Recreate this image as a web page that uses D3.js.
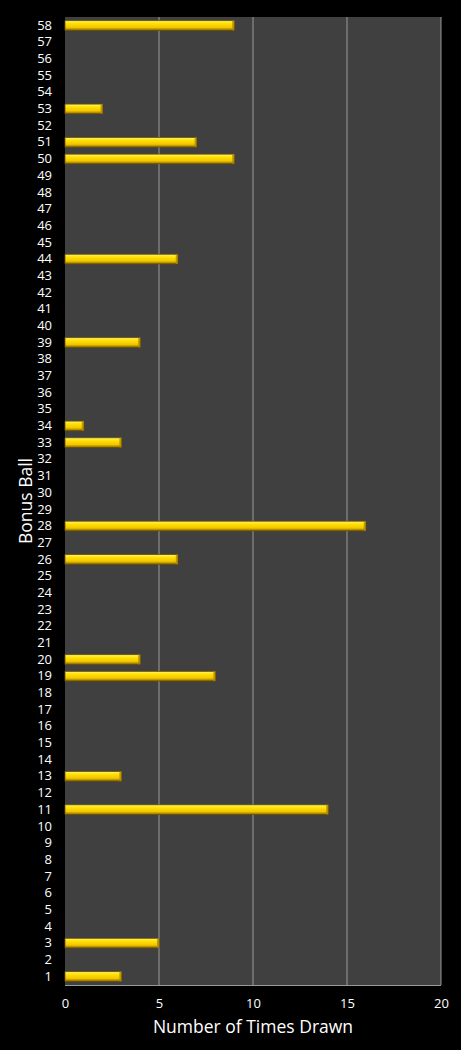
<!DOCTYPE html>
<html lang="en">
<head>
    <meta charset="UTF-8">
    <title>Bonus Ball</title>
    <script src="https://cdn.jsdelivr.net/npm/d3@7"></script>
    <style>
        body { margin: 0; background: #000; }
        svg { display: block; }
        text { font-family: "Open Sans", "DejaVu Sans", sans-serif; fill: #fff; }
    </style>
</head>
<body>
    <div id="chart-space"></div>

    <script>
        // Bonus ball numbers 1..58 and how often each was drawn
        var balls = d3.range(1, 59);
        var drawnBalls = [1, 3, 11, 13, 19, 20, 26, 28, 33, 34, 39, 44, 50, 51, 53, 58];
        var drawnCounts = [3, 5, 14, 3, 8, 4, 6, 16, 3, 1, 4, 6, 9, 7, 2, 9];
        var xTicks = [0, 5, 10, 15, 20];

        var width = 461;
        var height = 1050;
        var margin = {top: 17, right: 20, bottom: 65, left: 65};
        var chartWidth = width - margin.left - margin.right;
        var chartHeight = height - margin.top - margin.bottom;

        var countOf = {};
        drawnBalls.forEach(function(b, i) { countOf[b] = drawnCounts[i]; });
        var data = balls.map(function(b) { return {ball: b, count: countOf[b] || 0}; });

        var svg = d3.select("#chart-space")
            .append("svg")
            .attr("width", width)
            .attr("height", height);

        var defs = svg.append("defs");
        var grad = defs.append("linearGradient")
            .attr("id", "barGrad")
            .attr("x1", 0).attr("y1", 0).attr("x2", 0).attr("y2", 1);
        grad.append("stop").attr("offset", "0%").attr("stop-color", "#fff27a");
        grad.append("stop").attr("offset", "30%").attr("stop-color", "#ffe100");
        grad.append("stop").attr("offset", "70%").attr("stop-color", "#f2c600");
        grad.append("stop").attr("offset", "100%").attr("stop-color", "#8a6a00");

        var g = svg.append("g")
            .attr("transform", "translate(" + margin.left + "," + margin.top + ")");

        var xScale = d3.scaleLinear()
            .domain([0, 20])
            .range([0, chartWidth]);

        var yScale = d3.scaleBand()
            .domain(balls.slice().reverse())
            .range([0, chartHeight])
            .paddingInner(0.42)
            .paddingOuter(0.22);

        // plot background
        g.append("rect")
            .attr("width", chartWidth)
            .attr("height", chartHeight)
            .attr("fill", "#404040");

        // vertical gridlines
        g.selectAll(".grid")
            .data(xTicks.slice(1))
            .join("line")
            .attr("class", "grid")
            .attr("x1", function(d) { return xScale(d); })
            .attr("x2", function(d) { return xScale(d); })
            .attr("y1", 0)
            .attr("y2", chartHeight)
            .attr("stroke", "#9a9a9a")
            .attr("stroke-width", 1);

        // bottom border
        g.append("line")
            .attr("x1", 0).attr("x2", chartWidth)
            .attr("y1", chartHeight + 0.5).attr("y2", chartHeight + 0.5)
            .attr("stroke", "#9a9a9a");

        // bars
        var bars = g.selectAll(".bar")
            .data(data.filter(function(d) { return d.count > 0; }))
            .join("g")
            .attr("class", "bar");

        bars.append("rect")
            .attr("x", 0)
            .attr("y", function(d) { return yScale(d.ball); })
            .attr("width", function(d) { return xScale(d.count); })
            .attr("height", yScale.bandwidth())
            .attr("fill", "url(#barGrad)")
            .attr("stroke", "#6b5200")
            .attr("stroke-width", 0.8);

        // darker bevel on the right end
        bars.append("rect")
            .attr("x", function(d) { return xScale(d.count) - 2; })
            .attr("y", function(d) { return yScale(d.ball); })
            .attr("width", 2)
            .attr("height", yScale.bandwidth())
            .attr("fill", "#b08800")
            .attr("opacity", 0.8);

        // axes
        var xAxis = g.append("g")
            .attr("transform", "translate(0," + chartHeight + ")")
            .call(d3.axisBottom(xScale).tickValues(xTicks).tickSize(0).tickPadding(14));
        xAxis.select(".domain").remove();
        xAxis.selectAll("text").attr("font-size", 13).attr("fill", "#fff");

        var yAxis = g.append("g")
            .call(d3.axisLeft(yScale).tickSize(0).tickPadding(13));
        yAxis.select(".domain").remove();
        yAxis.selectAll("text").attr("font-size", 13).attr("fill", "#fff");

        // axis titles
        svg.append("text")
            .attr("x", margin.left + chartWidth / 2)
            .attr("y", 1033)
            .attr("text-anchor", "middle")
            .attr("font-size", 17.5)
            .text("Number of Times Drawn");

        svg.append("text")
            .attr("transform", "translate(32," + (margin.top + chartHeight / 2) + ") rotate(-90)")
            .attr("text-anchor", "middle")
            .attr("font-size", 17.5)
            .text("Bonus Ball");
    </script>
</body>
</html>
